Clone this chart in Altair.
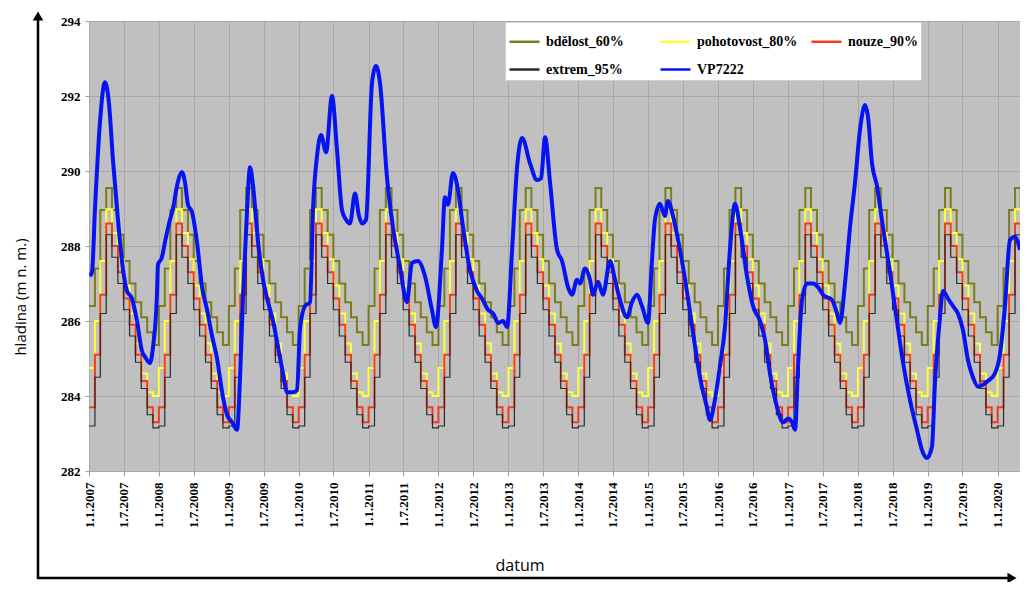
import altair as alt
import pandas as pd

# ---- monthly rule-curve profiles (Jan..Dec), repeated every year ----
BDELOST = [286.4, 287.4, 288.96, 289.55, 288.96, 288.3, 287.6, 287.0, 286.5, 286.1, 285.7, 285.36]
POHOTOVOST = [284.75, 286.0, 287.6, 288.98, 288.35, 287.65, 286.95, 286.2, 285.4, 284.6, 284.1, 284.0]
NOUZE = [283.7, 285.1, 286.7, 288.6, 288.0, 287.3, 286.6, 285.9, 285.1, 284.4, 283.7, 283.3]
EXTREM = [283.2, 284.5, 286.2, 288.3, 287.7, 287.0, 286.3, 285.6, 284.9, 284.2, 283.5, 283.15]
YEARS = list(range(2007, 2021))

# ---- observed level VP7222 (decimal year, m n. m.) ----
BLUE_T = [
    2007.014, 2007.043, 2007.086, 2007.157, 2007.229, 2007.286, 2007.343, 2007.401, 2007.472,
    2007.544, 2007.615, 2007.687, 2007.758, 2007.801, 2007.873, 2007.916, 2007.973, 2007.987,
    2008.044, 2008.087, 2008.159, 2008.202, 2008.259, 2008.330, 2008.373, 2008.416, 2008.474,
    2008.545, 2008.617, 2008.688, 2008.760, 2008.831, 2008.903, 2008.974,
    2009.046, 2009.117, 2009.160, 2009.203, 2009.260, 2009.303, 2009.346, 2009.418, 2009.489,
    2009.561, 2009.632, 2009.704, 2009.775, 2009.833, 2009.918, 2009.976,
    2010.019, 2010.090, 2010.162, 2010.205, 2010.262, 2010.319, 2010.391, 2010.476, 2010.548,
    2010.619, 2010.677, 2010.734, 2010.805, 2010.863, 2010.906, 2010.963,
    2011.049, 2011.106, 2011.163, 2011.263, 2011.349, 2011.449, 2011.549, 2011.621, 2011.707,
    2011.807, 2011.907, 2011.964,
    2012.050, 2012.093, 2012.136, 2012.207, 2012.279, 2012.351, 2012.451, 2012.551, 2012.622,
    2012.708, 2012.780, 2012.851, 2012.923, 2012.980,
    2013.052, 2013.123, 2013.195, 2013.309, 2013.409, 2013.466, 2013.524, 2013.595, 2013.695,
    2013.767, 2013.853, 2013.910, 2013.981,
    2014.024, 2014.096, 2014.167, 2014.210, 2014.282, 2014.353, 2014.454, 2014.525, 2014.597,
    2014.697, 2014.768, 2014.840, 2014.911, 2014.997,
    2015.054, 2015.097, 2015.169, 2015.240, 2015.283, 2015.355, 2015.455, 2015.555, 2015.641,
    2015.741, 2015.841, 2015.884, 2015.956,
    2016.027, 2016.099, 2016.170, 2016.242, 2016.313, 2016.413, 2016.499, 2016.599, 2016.671,
    2016.742, 2016.843, 2016.928,
    2017.000, 2017.057, 2017.100, 2017.143, 2017.200, 2017.272, 2017.358, 2017.429, 2017.501,
    2017.629, 2017.701, 2017.744, 2017.815, 2017.887, 2017.959,
    2018.030, 2018.102, 2018.144, 2018.202, 2018.273, 2018.359, 2018.459, 2018.559, 2018.645,
    2018.745, 2018.845, 2018.917, 2018.989,
    2019.060, 2019.103, 2019.175, 2019.217, 2019.289, 2019.361, 2019.432, 2019.504, 2019.575,
    2019.647, 2019.718, 2019.790, 2019.861, 2019.961,
    2020.033, 2020.105, 2020.176, 2020.247, 2020.319,
]
BLUE_V = [
    287.2, 287.3, 289.0, 291.3, 292.37, 291.8, 290.3, 289.0, 287.6,
    286.8, 286.6, 286.0, 285.2, 285.05, 284.88, 285.3, 286.7, 287.5,
    287.7, 288.1, 288.7, 289.0, 289.6, 289.97, 289.7, 289.1, 288.9,
    288.1, 286.9, 286.3, 285.6, 285.0, 284.1, 283.5,
    283.3, 283.1, 284.5, 286.7, 288.96, 290.1, 289.6, 288.1, 287.1,
    286.5, 286.0, 285.3, 284.6, 284.1, 284.1, 284.15,
    285.8, 286.4, 286.5, 289.0, 290.4, 290.96, 290.5, 292.0, 290.56,
    288.96, 288.7, 288.6, 289.4, 288.8, 288.6, 288.7,
    292.35, 292.8, 292.35, 289.84, 288.5, 287.45, 286.5, 287.55, 287.6,
    287.2, 286.3, 285.84,
    287.9, 289.3, 289.1, 289.95, 289.5, 288.5, 287.36, 286.8, 286.6,
    286.3, 286.2, 285.95, 286.0, 285.84,
    287.9, 290.1, 290.88, 290.2, 289.76, 289.8, 290.9, 289.7, 287.9,
    287.6, 286.9, 286.7, 287.1,
    287.0, 287.4, 287.1, 286.7, 287.05, 286.7, 287.6, 287.1, 286.56,
    286.1, 286.5, 286.7, 286.4, 285.95,
    287.6, 288.7, 289.13, 288.8, 289.2, 288.8, 287.9, 286.8, 285.7,
    284.5, 283.7, 283.36, 283.9,
    284.8, 285.84, 287.9, 289.13, 288.5, 287.2, 286.4, 286.0, 285.5,
    284.6, 283.7, 283.3,
    283.4, 283.3, 283.1, 284.8, 286.56, 287.0, 287.0, 286.9, 286.7,
    286.56, 286.2, 285.95, 287.0, 288.5, 289.7,
    291.1, 291.76, 291.45, 290.2, 289.6, 288.5, 287.3, 286.0, 284.9,
    283.9, 283.1, 282.56, 282.35,
    282.64, 284.35, 286.1, 286.8, 286.6, 286.4, 286.2, 285.76, 284.96,
    284.5, 284.25, 284.3, 284.4, 284.6,
    285.1, 286.4, 288.16, 288.25, 287.9,
]

SERIES = ["bdělost_60%", "pohotovost_80%", "nouze_90%", "extrem_95%", "VP7222"]
COLORS = ["#7c7c1c", "#ffff3a", "#f23c1a", "#2a2a2a", "#0714f2"]
WIDTHS = [2.0, 2.0, 2.0, 1.2, 4.0]
Y_TICKS = [282, 284, 286, 288, 290, 292, 294]


def ms(ts):
    return int(pd.Timestamp(ts, tz="UTC").value // 10**6)


# threshold table (monthly steps)
profiles = dict(zip(SERIES[:4], [BDELOST, POHOTOVOST, NOUZE, EXTREM]))
rows = []
for name, prof in profiles.items():
    for y in YEARS:
        for m in range(12):
            rows.append({"series": name, "t": ms(f"{y}-{m + 1:02d}-01"), "v": prof[m]})
thr = pd.DataFrame(rows)

# observed series
brows = []
for t, v in zip(BLUE_T, BLUE_V):
    y = int(t)
    a, b = ms(f"{y}-01-01"), ms(f"{y + 1}-01-01")
    brows.append({"series": "VP7222", "t": int(a + (t - y) * (b - a)), "v": v})
blue = pd.DataFrame(brows)

tick_vals = []
for y in YEARS:
    tick_vals.append(alt.DateTime(year=y, month=1, date=1, utc=True))
    if y < 2020:
        tick_vals.append(alt.DateTime(year=y, month=7, date=1, utc=True))

W, H = 931, 450

x_enc = alt.X(
    "t:T",
    title=None,
    scale=alt.Scale(
        type="utc",
        domain=[alt.DateTime(year=2007, month=1, date=1, utc=True),
                alt.DateTime(year=2020, month=4, date=27, utc=True)],
        nice=False,
    ),
    axis=alt.Axis(
        values=tick_vals, format="%-d.%-m.%Y", labelAngle=270,
        labelFont="Liberation Serif", labelFontWeight="bold", labelFontSize=13,
        labelColor="black", labelPadding=6, tickSize=5, tickColor="#a0a0a0",
        grid=True, gridColor="#a8a8a8", gridWidth=1, domain=False,
        labelOverlap=False, labelFlush=False,
    ),
)
y_enc = alt.Y(
    "v:Q",
    title=None,
    scale=alt.Scale(domain=[282, 294], nice=False, zero=False),
    axis=alt.Axis(
        values=Y_TICKS, format="d",
        labelFont="Liberation Serif", labelFontWeight="bold", labelFontSize=13,
        labelColor="black", labelPadding=5, tickSize=4, tickColor="#a0a0a0",
        grid=True, gridColor="#a8a8a8", gridWidth=1, domain=False,
    ),
)
legend = alt.Legend(
    title=None, orient="none", legendX=416, legendY=1, direction="horizontal",
    columns=3, symbolType="stroke", symbolSize=900, symbolStrokeWidth=2.5,
    labelFont="Liberation Serif", labelFontWeight="bold", labelFontSize=14,
    labelColor="black", labelLimit=220, labelOffset=5,
    fillColor="white", strokeColor="#d0d0d0", padding=3,
    rowPadding=4, columnPadding=8, gridAlign="all",
)
color_enc = alt.Color(
    "series:N", scale=alt.Scale(domain=SERIES, range=COLORS), legend=legend,
    sort=SERIES,
)

layers = []
for name, w in zip(SERIES[:4], WIDTHS[:4]):
    layers.append(
        alt.Chart(thr)
        .transform_filter(alt.datum.series == name)
        .mark_line(interpolate="step-after", strokeWidth=w, clip=True)
        .encode(x=x_enc, y=y_enc, color=color_enc)
    )
layers.append(
    alt.Chart(blue)
    .mark_line(interpolate="monotone", strokeWidth=WIDTHS[4], clip=True)
    .encode(x=x_enc, y=y_enc, color=color_enc)
)

one = pd.DataFrame({"k": [0]})
deco = [
    alt.Chart(one).mark_rule(color="black", strokeWidth=2.5).encode(
        x=alt.value(-51), y=alt.value(-4), y2=alt.value(558)),
    alt.Chart(one).mark_rule(color="black", strokeWidth=2.5).encode(
        x=alt.value(-52), x2=alt.value(922), y=alt.value(557)),
    alt.Chart(one).mark_point(shape="triangle-up", filled=True, color="black",
                              size=110, opacity=1).encode(
        x=alt.value(-51), y=alt.value(-5)),
    alt.Chart(one).mark_point(shape="triangle-right", filled=True, color="black",
                              size=110, opacity=1).encode(
        x=alt.value(923), y=alt.value(557)),
    alt.Chart(one).mark_text(text="hladina (m n. m.)", angle=270, font="Open Sans",
                             fontSize=15, color="black").encode(
        x=alt.value(-68), y=alt.value(276)),
    alt.Chart(one).mark_text(text="datum", font="Open Sans", fontSize=16,
                             color="black").encode(
        x=alt.value(431), y=alt.value(545)),
]

chart = (
    alt.layer(*layers, *deco)
    .properties(
        width=W, height=H,
        autosize=alt.AutoSizeParams(type="none"),
        padding={"left": 81, "top": 13, "right": 0, "bottom": 111},
        background="white",
    )
    .configure_view(fill="#c0c0c0", stroke="#a0a0a0", strokeWidth=1)
)

chart.save("out.html", embed_options={"renderer": "svg", "actions": False})
